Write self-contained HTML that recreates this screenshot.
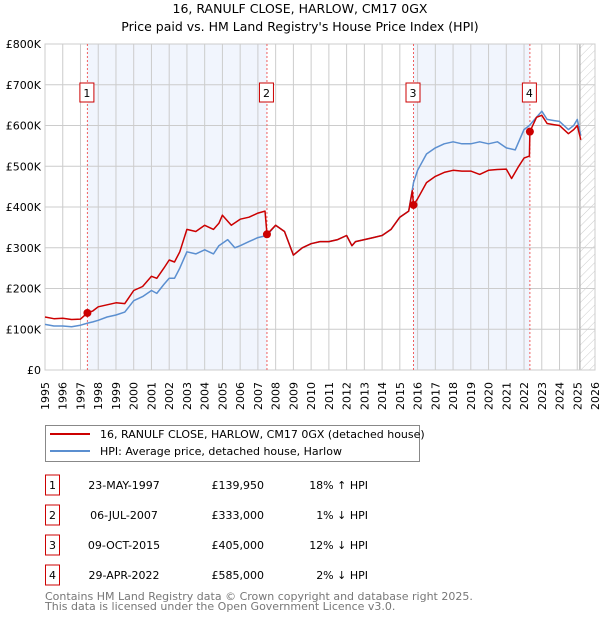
<!DOCTYPE html>
<html><head><meta charset="utf-8">
<style>
body{margin:0;background:#fff;font-family:"DejaVu Sans","Liberation Sans",sans-serif;}
svg text{font-family:"DejaVu Sans","Liberation Sans",sans-serif;}
</style></head>
<body>
<svg id="chart" width="600" height="620" viewBox="0 0 600 620" xmlns="http://www.w3.org/2000/svg">
<defs>
<pattern id="hatch" patternUnits="userSpaceOnUse" width="6" height="6" patternTransform="rotate(45)">
<line x1="0" y1="0" x2="0" y2="6" stroke="#ccc" stroke-width="1"/>
</pattern>
</defs>
<text x="300" y="13" text-anchor="middle" font-size="12.5">16, RANULF CLOSE, HARLOW, CM17 0GX</text>
<text x="300" y="31" text-anchor="middle" font-size="12.5">Price paid vs. HM Land Registry's House Price Index (HPI)</text>
<g id="plot"></g>
<g>
<rect x="45.5" y="425.5" width="374" height="36" fill="#fff" stroke="#888"/>
<line x1="50" y1="434" x2="90" y2="434" stroke="#cc0000" stroke-width="2"/>
<text x="100" y="438" font-size="11">16, RANULF CLOSE, HARLOW, CM17 0GX (detached house)</text>
<line x1="50" y1="451" x2="90" y2="451" stroke="#5b8fd0" stroke-width="2"/>
<text x="100" y="455" font-size="11">HPI: Average price, detached house, Harlow</text>
</g>
<g id="table"></g>
<text x="45" y="600" font-size="11" fill="#777">Contains HM Land Registry data © Crown copyright and database right 2025.</text>
<text x="45" y="610" font-size="11" fill="#777">This data is licensed under the Open Government Licence v3.0.</text>
</svg>
<script>
const hpiYears=[1995,1995.5,1996,1996.5,1997,1997.4,1997.7,1998,1998.5,1999,1999.5,2000,2000.5,2001,2001.3,2001.7,2002,2002.3,2002.6,2003,2003.5,2004,2004.5,2004.8,2005.3,2005.7,2006,2006.5,2007,2007.5,2008,2008.5,2009,2009.5,2010,2010.5,2011,2011.5,2012,2012.3,2012.5,2013,2013.5,2014,2014.5,2015,2015.5,2015.77,2016,2016.5,2017,2017.5,2018,2018.5,2019,2019.5,2020,2020.5,2021,2021.5,2022,2022.3,2022.7,2023,2023.3,2023.7,2024,2024.5,2024.8,2025,2025.2];
const hpiValues=[112,108,108,106,110,115,118,122,130,135,142,170,180,195,188,210,225,225,250,290,285,295,285,305,320,300,305,315,325,330,355,340,282,300,310,315,315,320,330,305,315,320,325,330,345,375,390,460,490,530,545,555,560,555,555,560,555,560,545,540,590,600,620,635,615,612,610,590,600,615,575];
const redYears=[1995,1995.5,1996,1996.5,1997,1997.39,1997.7,1998,1998.5,1999,1999.5,2000,2000.5,2001,2001.3,2001.7,2002,2002.3,2002.6,2003,2003.5,2004,2004.5,2004.8,2005,2005.5,2006,2006.5,2007,2007.4,2007.51,2008,2008.5,2009,2009.5,2010,2010.5,2011,2011.5,2012,2012.3,2012.5,2013,2013.5,2014,2014.5,2015,2015.5,2015.7,2015.77,2016,2016.5,2017,2017.5,2018,2018.5,2019,2019.5,2020,2020.5,2021,2021.3,2021.7,2022,2022.3,2022.33,2022.7,2023,2023.3,2023.7,2024,2024.5,2024.8,2025,2025.2];
const redValues=[130,126,127,124,125,140,145,155,160,165,163,195,205,230,225,250,270,265,290,345,340,355,345,360,380,355,370,375,385,390,333,355,340,282,300,310,315,315,320,330,305,315,320,325,330,345,375,390,440,405,420,460,475,485,490,488,488,480,490,492,493,470,500,520,525,585,620,625,605,602,600,580,590,600,565];
const saleLabels=["1","2","3","4"];
const saleYears=[1997.39,2007.51,2015.77,2022.33];
const saleValues=[139.95,333,405,585];
const saleDates=["23-MAY-1997","06-JUL-2007","09-OCT-2015","29-APR-2022"];
const salePrices=["£139,950","£333,000","£405,000","£585,000"];
const saleHpi=["18% ↑ HPI","1% ↓ HPI","12% ↓ HPI","2% ↓ HPI"];
const yTicks=[0,100,200,300,400,500,600,700,800];
const yTickLabels=["£0","£100K","£200K","£300K","£400K","£500K","£600K","£700K","£800K"];
const xTicks=[1995,1996,1997,1998,1999,2000,2001,2002,2003,2004,2005,2006,2007,2008,2009,2010,2011,2012,2013,2014,2015,2016,2017,2018,2019,2020,2021,2022,2023,2024,2025,2026];

const X0=45,X1=595,Y0=370,Y1=44;
const xs=y=>X0+(y-1995)/(2026-1995)*(X1-X0);
const ys=v=>Y0-v/800*(Y0-Y1);
const NS="http://www.w3.org/2000/svg";
const plot=document.getElementById('plot');
function mk(tag,attrs,parent){const e=document.createElementNS(NS,tag);for(const k in attrs)e.setAttribute(k,attrs[k]);(parent||plot).appendChild(e);return e;}

for(let i=0;i<4;i+=2){
  const r=mk('rect',{x:xs(saleYears[i]),y:Y1,width:xs(saleYears[i+1])-xs(saleYears[i]),height:Y0-Y1,fill:'#eef3fc',opacity:0.8});
  
  
}
const hx=xs(2025.15);
const hr=mk('rect',{x:hx,y:Y1,width:X1-hx,height:Y0-Y1,fill:'url(#hatch)'});


mk('line',{x1:hx,y1:Y1,x2:hx,y2:Y0,stroke:'#999','stroke-width':1});
xTicks.forEach(t=>{
  const l=mk('line',{x1:xs(t),y1:Y1,x2:xs(t),y2:Y0,stroke:'#ccc','stroke-width':1});
  
  
  const tx=mk('text',{x:0,y:0,'font-size':11,'text-anchor':'end',transform:`translate(${xs(t)+4},${Y0+12}) rotate(-90)`});
  tx.textContent=t;
  
  
});
yTicks.forEach((t,i)=>{
  const l=mk('line',{x1:X0,y1:ys(t),x2:X1,y2:ys(t),stroke:'#ccc','stroke-width':1});
  
  
  const tx=mk('text',{x:X0-4,y:ys(t)+4,'font-size':11,'text-anchor':'end'});
  tx.textContent=yTickLabels[i];
  
  
});
mk('rect',{x:X0,y:Y1,width:X1-X0,height:Y0-Y1,fill:'none',stroke:'#ccc'});
saleYears.forEach((s,i)=>{
  const l=mk('line',{x1:xs(s),y1:Y1,x2:xs(s),y2:Y0,stroke:'#f06060','stroke-width':1,'stroke-dasharray':'2,2'});
  
  
  const bx=mk('rect',{x:xs(s)-7.5,y:83,width:14,height:19,fill:'#fff',stroke:'#cc0000'});
  
  
  const t=mk('text',{x:xs(s)-0.5,y:97,'font-size':11,'text-anchor':'middle'});
  t.textContent=saleLabels[i];
});
function path(xa,va){return xa.map((y,i)=>(i?'L':'M')+xs(y).toFixed(1)+','+ys(va[i]).toFixed(1)).join('');}
const hp=mk('path',{d:path(hpiYears,hpiValues),fill:'none',stroke:'#5b8fd0','stroke-width':1.5,'stroke-linejoin':'round'});


const rp=mk('path',{d:path(redYears,redValues),fill:'none',stroke:'#cc0000','stroke-width':1.5,'stroke-linejoin':'round'});


saleYears.forEach((s,i)=>{
  const c=mk('circle',{cx:xs(s),cy:ys(saleValues[i]),r:4,fill:'#cc0000'});
  
  
});
const tb=document.getElementById('table');
saleLabels.forEach((lab,i)=>{
  const cy=483+i*30;
  const g=mk('g',{},tb);
  
  
  mk('rect',{x:45.5,y:cy-8,width:14,height:20,fill:'#fff',stroke:'#cc0000'},g);
  const t0=mk('text',{x:52.5,y:cy+6,'font-size':11,'text-anchor':'middle'},g);t0.textContent=lab;
  const t1=mk('text',{x:124,y:cy+6,'font-size':11,'text-anchor':'middle'},g);t1.textContent=saleDates[i];
  const t2=mk('text',{x:264,y:cy+6,'font-size':11,'text-anchor':'end'},g);t2.textContent=salePrices[i];
  const t3=mk('text',{x:368,y:cy+6,'font-size':11,'text-anchor':'end'},g);t3.textContent=saleHpi[i];
});
</script>
</body></html>
